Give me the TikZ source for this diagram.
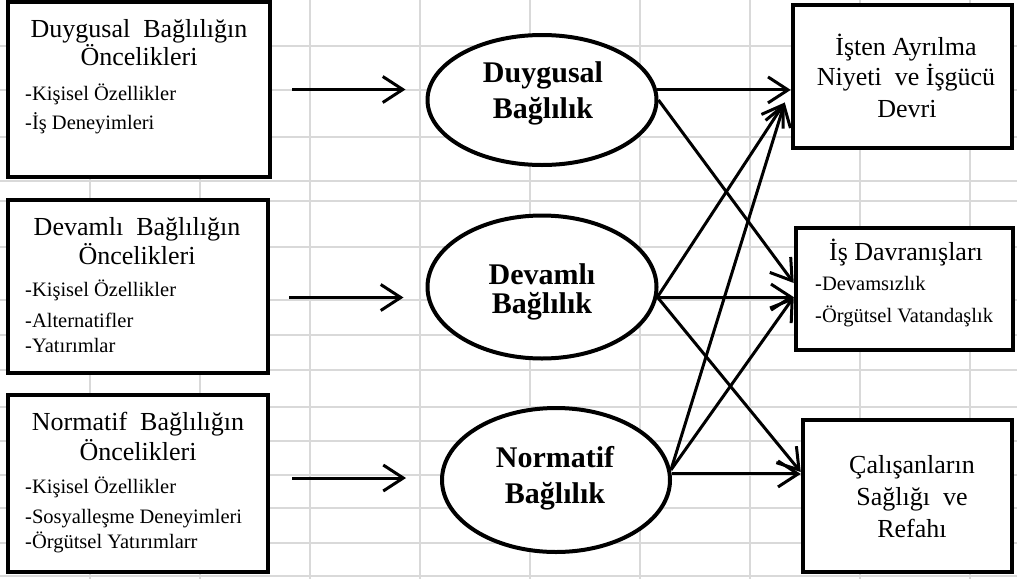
\documentclass[tikz,border=0pt]{standalone}
\usepackage{fontspec}
\setmainfont{Liberation Serif}
\usetikzlibrary{shapes.geometric,arrows.meta}
\definecolor{gridgray}{HTML}{D9D9D9}

\begin{document}
\begin{tikzpicture}[x=1pt,y=-1pt,
    box/.style={draw,line width=4.5pt,fill=white,inner sep=0pt},
    factor/.style={ellipse,draw,line width=4pt,fill=white,inner sep=0pt},
    title/.style={anchor=base,inner sep=0pt,font=\fontsize{26}{30}\selectfont},
    item/.style={anchor=base west,inner sep=0pt,font=\fontsize{20.5}{24}\selectfont},
    ftitle/.style={anchor=base,inner sep=0pt,font=\fontsize{30}{36}\selectfont\bfseries},
    link/.style={line width=3pt,-{Straight Barb[length=20pt,width=26pt]}}]
  \useasboundingbox (0,0) rectangle (1017,579);

  \foreach \x in {90,200,...,970}
    \draw[gridgray,line width=1.5pt] (\x,0) -- (\x,579);
  \foreach \y in {46,90,137,181,201,247,300,335,370,407,441,475,508,543,576}
    \draw[gridgray,line width=1.5pt] (0,\y) -- (1017,\y);

  \node[box,minimum width=262pt,minimum height=175pt] (b1) at (139,89.5) {};
  \node[box,minimum width=260pt,minimum height=173pt] (b2) at (138,286.5) {};
  \node[box,minimum width=260pt,minimum height=177pt] (b3) at (138,483.5) {};

  \node[box,minimum width=219pt,minimum height=143pt] (r1) at (902.5,76.5) {};
  \node[box,minimum width=217pt,minimum height=122pt] (r2) at (904.5,289) {};
  \node[box,minimum width=209pt,minimum height=152pt] (r3) at (907.5,496) {};

  \node[factor,minimum width=229pt,minimum height=130pt] (e1) at (542,100) {};
  \node[factor,minimum width=229pt,minimum height=143pt] (e2) at (542,287) {};
  \node[factor,minimum width=228pt,minimum height=144pt] (e3) at (556,480) {};

  \node[title] (b1t1) at (139,37) {Duygusal~ Bağlılığın};
  \node[title] (b1t2) at (139,65) {Öncelikleri};
  \node[item] (b1i1) at (25,100) {-Kişisel Özellikler};
  \node[item] (b1i2) at (25,129) {-İş Deneyimleri};

  \node[title] (b2t1) at (137,235) {Devamlı~ Bağlılığın};
  \node[title] (b2t2) at (137,264) {Öncelikleri};
  \node[item] (b2i1) at (25,296) {-Kişisel Özellikler};
  \node[item] (b2i2) at (25,327) {-Alternatifler};
  \node[item] (b2i3) at (25,352) {-Yatırımlar};

  \node[title] (b3t1) at (138,430) {Normatif~ Bağlılığın};
  \node[title] (b3t2) at (138,460) {Öncelikleri};
  \node[item] (b3i1) at (25,493) {-Kişisel Özellikler};
  \node[item] (b3i2) at (25,523) {-Sosyalleşme Deneyimleri};
  \node[item] (b3i3) at (25,548) {-Örgütsel Yatırımlarr};

  \node[ftitle] (e1t1) at (543,82) {Duygusal};
  \node[ftitle] (e1t2) at (543,118) {Bağlılık};
  \node[ftitle] (e2t1) at (542,284) {Devamlı};
  \node[ftitle] (e2t2) at (542,313) {Bağlılık};
  \node[ftitle] (e3t1) at (555,467) {Normatif};
  \node[ftitle] (e3t2) at (555,503) {Bağlılık};

  \node[title] (r1t1) at (906,55) {İşten Ayrılma};
  \node[title] (r1t2) at (906,85) {Niyeti~ ve İşgücü};
  \node[title] (r1t3) at (907,117) {Devri};

  \node[title] (r2t1) at (906,260) {İş Davranışları};
  \node[item] (r2i1) at (815,290) {-Devamsızlık};
  \node[item] (r2i2) at (815,322) {-Örgütsel Vatandaşlık};

  \node[title] (r3t1) at (912,473) {Çalışanların};
  \node[title] (r3t2) at (912,505) {Sağlığı~ ve};
  \node[title] (r3t3) at (912,537) {Refahı};

  \coordinate (s1) at (b1.east);
  \coordinate (s2) at ([yshift=-11pt]b2.east);
  \coordinate (s3) at ([yshift=5.5pt]b3.east);
  \draw[link,shorten <=20pt,shorten >=20pt] (s1) -- (s1 -| e1.west);
  \draw[link,shorten <=19pt,shorten >=22pt] (s2) -- (s2 -| e2.west);
  \draw[link,shorten <=22pt,shorten >=34pt] (s3) -- (s3 -| e3.west);

  \draw[link] (e1.5) -- (e1.5 -| r1.west);
  \draw[link] (e1.east) -- ([yshift=6pt]r2.west);
  \draw[link] (e2.-5) -- ([xshift=-6pt,yshift=-26pt]r1.west);
  \draw[link] (e2.-5) -- (e2.-5 -| r2.west);
  \draw[link] (e2.-5) -- ([yshift=24pt]r3.west);
  \draw[link] (e3.5) -- ([xshift=-6pt,yshift=-26pt]r1.west);
  \draw[link] (e3.5) -- ([yshift=-8pt]r2.west);
  \draw[link] (e3.3) -- (e3.3 -| r3.west);

\end{tikzpicture}
\end{document}
